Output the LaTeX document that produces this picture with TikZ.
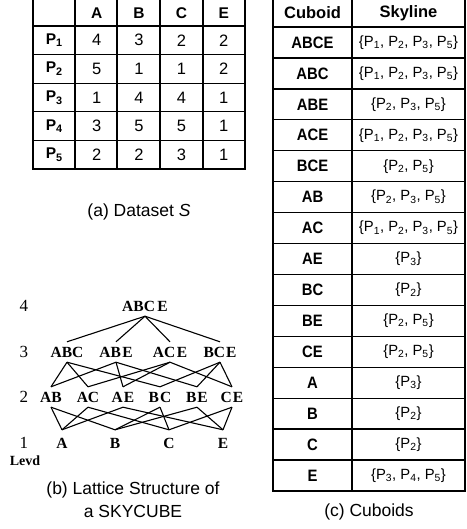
\documentclass[tikz,border=0pt]{standalone}
\usepackage{fontspec}
\setmainfont{Liberation Sans}
\newfontfamily\tnr{Liberation Serif}
\newfontfamily\condsans[FakeStretch=0.9]{Liberation Sans}
\newcommand{\pp}[1]{P\textsubscript{#1}}
\begin{document}
\begin{tikzpicture}[x=1pt,y=-1pt,
  tcell/.style={font=\fontsize{16.5}{19}\selectfont, inner sep=0pt},
  thead/.style={font=\fontsize{15.5}{18}\selectfont\bfseries, inner sep=0pt},
  chead/.style={font=\fontsize{16.5}{19}\selectfont\bfseries, inner sep=0pt},
  cub/.style={font=\condsans\bfseries\fontsize{16.5}{19}\selectfont, inner sep=0pt},
  skyc/.style={font=\fontsize{14.8}{17}\selectfont, inner sep=0pt},
  lat/.style={font=\tnr\bfseries\fontsize{15.5}{18}\selectfont, inner sep=0pt, minimum height=20pt},
  latlow/.style={lat, minimum height=26pt},
  lvl/.style={font=\tnr\fontsize{17}{20}\selectfont, inner sep=0pt},
  captxt/.style={font=\fontsize{17.5}{23}\selectfont, align=center, inner sep=0pt},
  gridln/.style={line width=1.3pt},
  latedge/.style={line width=1.1pt}]
\useasboundingbox (0,0) rectangle (466,529);

% ---------- (a) Dataset table ----------
\draw[gridln] (33,-3) rectangle (245,169);
\foreach \xx in {75,117,160,203} \draw[gridln] (\xx,-3) -- (\xx,169);
\foreach \yy in {26,54.6,83.2,111.8,140.4} \draw[gridln] (33,\yy) -- (245,\yy);
\foreach \v [count=\i] in {A,B,C,E}
  \node[thead] (ah\i) at ({33+42.4*\i+21.2},13) {\v};
\foreach \r in {1,...,5}
  \node[thead] (ap\r) at (54.2,{26+28.6*(\r-1)+14.3}) {P\textsubscript{\r}};
\foreach \r/\vals in {1/{4,3,2,2},2/{5,1,1,2},3/{1,4,4,1},4/{3,5,5,1},5/{2,2,3,1}}
  \foreach \v [count=\c] in \vals
    \node[tcell] (a\r\c) at ({33+42.4*\c+21.2},{26+28.6*(\r-1)+14.3}) {\v};
\node[captxt] (capa) at (139,212) {(a) Dataset {\itshape S}};

% ---------- (c) Cuboids table ----------
\draw[line width=1.6pt] (273,-3) rectangle (465,491);
\draw[line width=2.6pt] (352,-3) -- (352,491);
\draw[line width=1.6pt] (273,27) -- (465,27);
\foreach \k in {1,...,14} \draw[gridln] (273,{27+30.93*\k}) -- (465,{27+30.93*\k});
\node[chead] (ch1) at (312.5,13) {Cuboid};
\node[chead] (ch2) at (408.5,13) {Skyline};
\foreach \n/\lab in {1/ABCE,2/ABC,3/ABE,4/ACE,5/BCE,6/AB,7/AC,8/AE,9/BC,10/BE,11/CE,12/A,13/B,14/C,15/E}
  \node[cub] (cc\n) at (312.5,{27+30.93*(\n-1)+15.5}) {\lab};
\node[skyc] (cs1)  at (408.5,{27+30.93*0+15.5})  {\{\pp1, \pp2, \pp3, \pp5\}};
\node[skyc] (cs2)  at (408.5,{27+30.93*1+15.5})  {\{\pp1, \pp2, \pp3, \pp5\}};
\node[skyc] (cs3)  at (408.5,{27+30.93*2+15.5})  {\{\pp2, \pp3, \pp5\}};
\node[skyc] (cs4)  at (408.5,{27+30.93*3+15.5})  {\{\pp1, \pp2, \pp3, \pp5\}};
\node[skyc] (cs5)  at (408.5,{27+30.93*4+15.5})  {\{\pp2, \pp5\}};
\node[skyc] (cs6)  at (408.5,{27+30.93*5+15.5})  {\{\pp2, \pp3, \pp5\}};
\node[skyc] (cs7)  at (408.5,{27+30.93*6+15.5})  {\{\pp1, \pp2, \pp3, \pp5\}};
\node[skyc] (cs8)  at (408.5,{27+30.93*7+15.5})  {\{\pp3\}};
\node[skyc] (cs9)  at (408.5,{27+30.93*8+15.5})  {\{\pp2\}};
\node[skyc] (cs10) at (408.5,{27+30.93*9+15.5})  {\{\pp2, \pp5\}};
\node[skyc] (cs11) at (408.5,{27+30.93*10+15.5}) {\{\pp2, \pp5\}};
\node[skyc] (cs12) at (408.5,{27+30.93*11+15.5}) {\{\pp3\}};
\node[skyc] (cs13) at (408.5,{27+30.93*12+15.5}) {\{\pp2\}};
\node[skyc] (cs14) at (408.5,{27+30.93*13+15.5}) {\{\pp2\}};
\node[skyc] (cs15) at (408.5,{27+30.93*14+15.5}) {\{\pp3, \pp4, \pp5\}};
\node[captxt] (capc) at (369,512) {(c) Cuboids};

% ---------- (b) Lattice ----------
\node[lvl] (n4) at (24,306) {4};
\node[lvl] (n3) at (24,352) {3};
\node[lvl] (n2) at (24,397) {2};
\node[lvl] (n1) at (24,443) {1};
\node[font=\tnr\bfseries\fontsize{14}{16}\selectfont, inner sep=0pt] (levd) at (25,461) {Levd};

\node[lat] (ABCE) at (145,306) {ABC\kern2.5pt E};
\node[lat] (ABC) at (67,352) {ABC};
\node[lat] (ABE) at (116,352) {AB\kern1.5pt E};
\node[lat] (ACE) at (170,352) {AC\kern1.5pt E};
\node[lat] (BCE) at (220,352) {BC\kern1pt E};
\node[lat] (AB) at (51,397) {AB};
\node[lat] (AC) at (88,397) {AC};
\node[lat] (AE) at (123,397) {A\kern1pt E};
\node[lat] (BC) at (160,397) {B\kern1pt C};
\node[lat] (BE) at (197,397) {B\kern1pt E};
\node[lat] (CE) at (232,397) {C\kern1pt E};
\node[latlow] (A) at (62,443) {A};
\node[latlow] (B) at (115,443) {B};
\node[latlow] (C) at (169,443) {C};
\node[latlow] (E) at (223,443) {E};

\foreach \t in {ABC,ABE,ACE,BCE} \draw[latedge] (ABCE.south) -- (\t.north);
\foreach \s/\t in {ABC/AB,ABC/AC,ABC/BC,ABE/AB,ABE/AE,ABE/BE,ACE/AC,ACE/AE,ACE/CE,BCE/BC,BCE/BE,BCE/CE}
  \draw[latedge] (\s.south) -- (\t.north);
\foreach \s/\t in {AB/A,AB/B,AC/A,AC/C,AE/A,AE/E,BC/B,BC/C,BE/B,BE/E,CE/C,CE/E}
  \draw[latedge] (\s.south) -- (\t.north);

\node[captxt] (capb) at (133,499.5) {(b) Lattice Structure of\\ a SKYCUBE};
\end{tikzpicture}
\end{document}
